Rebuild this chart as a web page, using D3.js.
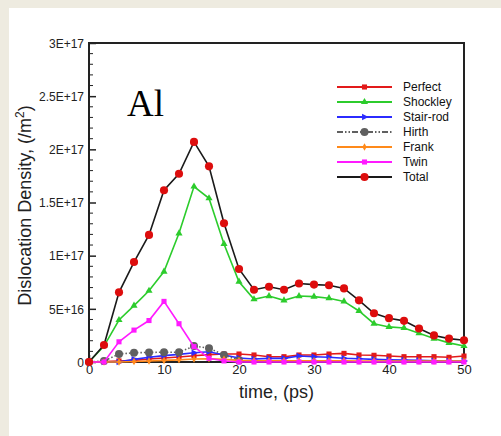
<!DOCTYPE html>
<html>
<head>
<meta charset="utf-8">
<script src="https://cdn.jsdelivr.net/npm/d3@7"></script>
<style>
  body { margin: 0; background: #eeebe0; }
  svg { display: block; }
</style>
</head>
<body>
<svg id="chart" width="501" height="436"></svg>
<script>
// time in ps, one sample every 2 ps
const times = [0, 2, 4, 6, 8, 10, 12, 14, 16, 18, 20, 22, 24, 26, 28, 30, 32, 34, 36, 38, 40, 42, 44, 46, 48, 50];

// densities (/m^2)
const perfect  = [0, 0.05e16, 0.1e16, 0.15e16, 0.28e16, 0.37e16, 0.47e16, 0.59e16, 0.69e16, 0.75e16, 0.75e16, 0.66e16, 0.5e16, 0.5e16, 0.66e16, 0.66e16, 0.75e16, 0.81e16, 0.66e16, 0.63e16, 0.56e16, 0.5e16, 0.5e16, 0.5e16, 0.44e16, 0.56e16];
const shockley = [0, 1.5e16, 3.95e16, 5.3e16, 6.7e16, 8.5e16, 12.1e16, 16.5e16, 15.4e16, 11.1e16, 7.55e16, 5.9e16, 6.2e16, 5.8e16, 6.2e16, 6.15e16, 6.0e16, 5.7e16, 4.8e16, 3.6e16, 3.3e16, 3.2e16, 2.7e16, 2.2e16, 1.8e16, 1.5e16];
const stairRod = [0, 0, 0, 0.25e16, 0.44e16, 0.6e16, 0.72e16, 0.87e16, 0.97e16, 0.66e16, 0.37e16, 0.28e16, 0.34e16, 0.34e16, 0.56e16, 0.5e16, 0.44e16, 0.35e16, 0.3e16, 0.25e16, 0.2e16, 0.18e16, 0.15e16, 0.12e16, 0.1e16, 0.1e16];
const hirth    = [0, 0.1e16, 0.75e16, 0.87e16, 0.9e16, 0.92e16, 0.92e16, 1.5e16, 1.3e16, 0.66e16, 0.15e16, null, null, null, null, null, null, null, null, null, null, null, null, null, null, null];
const frank    = [0, 0, 0, 0.05e16, 0.1e16, 0.15e16, 0.2e16, 0.28e16, 0.3e16, 0.25e16, 0.15e16, 0.12e16, 0.12e16, 0.12e16, 0.12e16, 0.12e16, 0.12e16, 0.12e16, 0.1e16, 0.1e16, 0.1e16, 0.1e16, 0.1e16, 0.1e16, 0.1e16, 0.1e16];
const twin     = [0, 0, 1.9e16, 3.0e16, 3.9e16, 5.7e16, 3.6e16, 1.45e16, 0.35e16, 0.1e16, 0, 0, 0, 0, 0, 0, 0, 0, 0, 0, 0, 0, 0, 0, 0, 0];
const total    = [0, 1.6e16, 6.55e16, 9.4e16, 11.95e16, 16.15e16, 17.7e16, 20.7e16, 18.4e16, 13.05e16, 8.75e16, 6.8e16, 7.08e16, 6.8e16, 7.38e16, 7.28e16, 7.22e16, 6.92e16, 5.8e16, 4.58e16, 4.12e16, 3.87e16, 3.15e16, 2.5e16, 2.2e16, 2.05e16];

const seriesNames = ["Perfect", "Shockley", "Stair-rod", "Hirth", "Frank", "Twin", "Total"];
const xTicks = [0, 10, 20, 30, 40, 50];
const yTicks = [0, 5e16, 1e17, 1.5e17, 2e17, 2.5e17, 3e17];
const yTickLabels = ["0", "5E+16", "1E+17", "1.5E+17", "2E+17", "2.5E+17", "3E+17"];

const svg = d3.select("#chart");

// white panel, beige strips on top and left
svg.append("rect").attr("x", 9).attr("y", 8).attr("width", 492).attr("height", 428).attr("fill", "#fff");

const plotL = 89, plotR = 464, plotT = 43, plotB = 362;
const x = d3.scaleLinear().domain([0, 50]).range([plotL, plotR]);
const y = d3.scaleLinear().domain([0, 3e17]).range([plotB, plotT]);

const font = "'Liberation Sans', Arial, sans-serif";

// minor ticks (inward)
const yMinor = d3.range(0, 3e17 + 1, 1e16).filter(v => yTicks.indexOf(v) < 0);
svg.append("g")
  .selectAll("line").data(yMinor).enter().append("line")
  .attr("x1", plotL).attr("x2", plotL + 4)
  .attr("y1", d => y(d)).attr("y2", d => y(d))
  .attr("stroke", "#222").attr("stroke-width", 1);

const xMinor = d3.range(0, 51, 2).filter(v => xTicks.indexOf(v) < 0);
svg.append("g")
  .selectAll("line").data(xMinor).enter().append("line")
  .attr("x1", d => x(d)).attr("x2", d => x(d))
  .attr("y1", plotB).attr("y2", plotB - 4)
  .attr("stroke", "#222").attr("stroke-width", 1);

// axes, ticks pointing into the plot
const yAxis = svg.append("g")
  .attr("transform", "translate(" + plotL + ",0)")
  .call(d3.axisLeft(y).tickValues(yTicks).tickSizeInner(-7).tickSizeOuter(0).tickPadding(5)
    .tickFormat((d, i) => yTickLabels[i]));
yAxis.select(".domain").remove();
yAxis.selectAll("line").attr("stroke", "#222").attr("stroke-width", 1.5);
yAxis.selectAll("text").attr("font-family", font).attr("font-size", 12).attr("fill", "#222").attr("dy", "0.35em");

const xAxis = svg.append("g")
  .attr("transform", "translate(0," + plotB + ")")
  .call(d3.axisBottom(x).tickValues(xTicks).tickSizeInner(-7).tickSizeOuter(0).tickPadding(3)
    .tickFormat(d3.format("d")));
xAxis.select(".domain").remove();
xAxis.selectAll("line").attr("stroke", "#222").attr("stroke-width", 1.5);
xAxis.selectAll("text").attr("font-family", font).attr("font-size", 13).attr("fill", "#222");

// frame
svg.append("rect")
  .attr("x", plotL).attr("y", plotT)
  .attr("width", plotR - plotL).attr("height", plotB - plotT)
  .attr("fill", "none").attr("stroke", "#222").attr("stroke-width", 2);

// series styling
const triRight = {
  draw(ctx, size) {
    const r = Math.sqrt(size / 1.3);
    ctx.moveTo(r, 0); ctx.lineTo(-r * 0.6, -r * 0.8); ctx.lineTo(-r * 0.6, r * 0.8); ctx.closePath();
  }
};

const series = [
  { name: "Perfect",   values: perfect,  line: "#e21a1a", fill: "#e21a1a", symbol: d3.symbolSquare,   size: 26, dash: null },
  { name: "Shockley",  values: shockley, line: "#2ccc2c", fill: "#2ccc2c", symbol: d3.symbolTriangle, size: 22, dash: null },
  { name: "Stair-rod", values: stairRod, line: "#2b2bff", fill: "#2b2bff", symbol: triRight,         size: 22, dash: null },
  { name: "Hirth",     values: hirth,    line: "#606060", fill: "#606060", symbol: d3.symbolCircle,   size: 50, dash: "6,2,1.5,2,1.5,2" },
  { name: "Frank",     values: frank,    line: "#ff8a1a", fill: "#ff8a1a", symbol: d3.symbolDiamond,  size: 16, dash: null },
  { name: "Twin",      values: twin,     line: "#ff1aff", fill: "#ff1aff", symbol: d3.symbolSquare,   size: 26, dash: null },
  { name: "Total",     values: total,    line: "#1a1a1a", fill: "#dd0d0d", symbol: d3.symbolCircle,   size: 52, dash: null }
];

const line = d3.line()
  .defined(d => d.v !== null)
  .x(d => x(d.t))
  .y(d => y(d.v));

series.forEach(function (s) {
  const pts = times.map((t, i) => ({ t: t, v: s.values[i] }));
  const g = svg.append("g").attr("class", "series");
  g.append("path")
    .datum(pts)
    .attr("d", line)
    .attr("fill", "none")
    .attr("stroke", s.line)
    .attr("stroke-width", 1.6)
    .attr("stroke-dasharray", s.dash);
  g.selectAll("path.mark")
    .data(pts.filter(d => d.v !== null))
    .enter().append("path")
    .attr("class", "mark")
    .attr("d", d3.symbol().type(s.symbol).size(s.size))
    .attr("transform", d => "translate(" + x(d.t) + "," + y(d.v) + ")")
    .attr("fill", s.fill);
});

// legend
const legend = svg.append("g");
series.forEach(function (s, i) {
  const ly = 87 + i * 15;
  legend.append("line")
    .attr("x1", 337).attr("x2", 392).attr("y1", ly).attr("y2", ly)
    .attr("stroke", s.line).attr("stroke-width", 1.8)
    .attr("stroke-dasharray", s.dash);
  legend.append("path")
    .attr("d", d3.symbol().type(s.symbol).size(s.size))
    .attr("transform", "translate(364.5," + ly + ")")
    .attr("fill", s.fill);
  legend.append("text")
    .attr("x", 403).attr("y", ly + 4)
    .attr("font-family", font).attr("font-size", 12).attr("fill", "#111")
    .text(seriesNames[i]);
});

// titles
svg.append("text")
  .attr("x", (plotL + plotR) / 2).attr("y", 398)
  .attr("text-anchor", "middle")
  .attr("font-family", font).attr("font-size", 18).attr("fill", "#222")
  .text("time, (ps)");

const yTitle = svg.append("text")
  .attr("transform", "translate(31," + ((plotT + plotB) / 2 + 3) + ") rotate(-90)")
  .attr("text-anchor", "middle")
  .attr("font-family", font).attr("font-size", 18).attr("fill", "#222");
yTitle.append("tspan").text("Dislocation Density, (/m");
yTitle.append("tspan").attr("font-size", 12).attr("dy", -7).text("2");
yTitle.append("tspan").attr("dy", 7).text(")");

svg.append("text")
  .attr("x", 127).attr("y", 116)
  .attr("font-family", "'Liberation Serif', 'Times New Roman', serif")
  .attr("font-size", 37).attr("fill", "#000")
  .text("Al");
</script>
</body>
</html>
